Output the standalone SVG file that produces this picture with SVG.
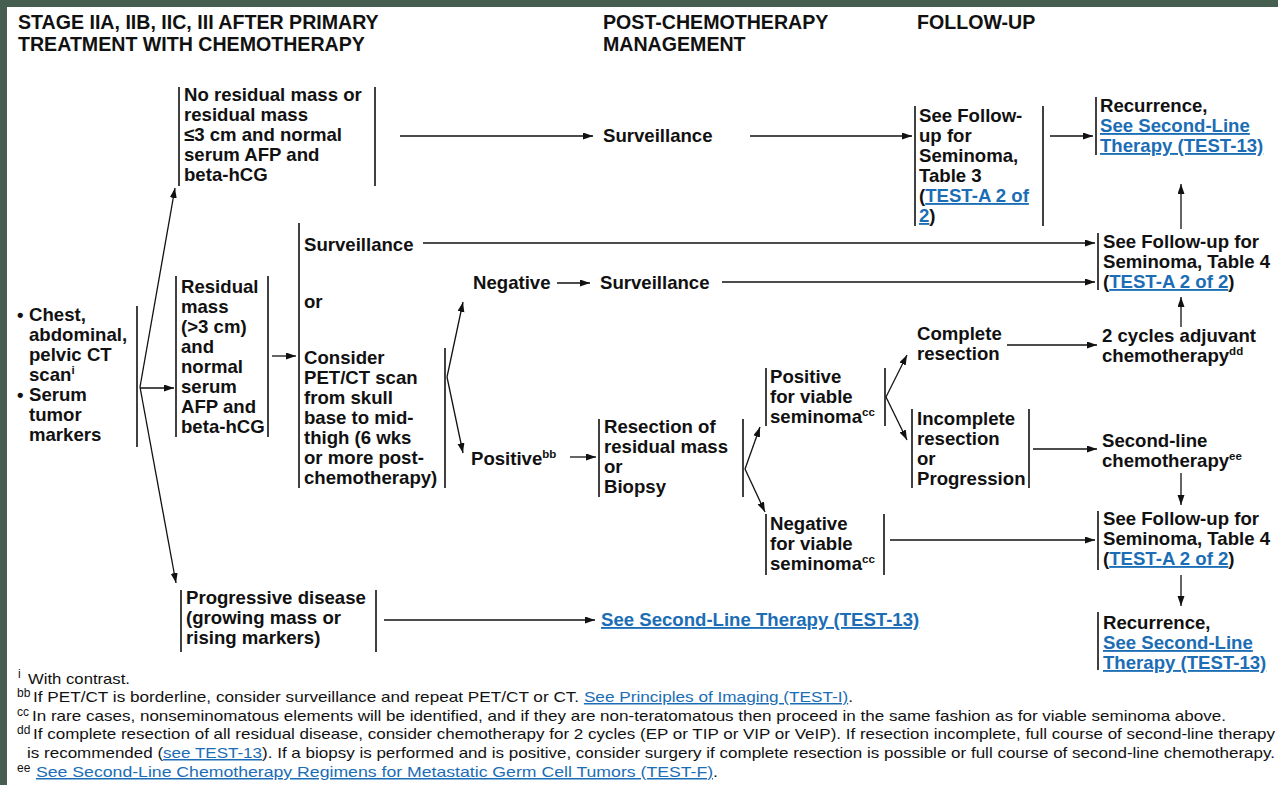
<svg xmlns="http://www.w3.org/2000/svg" width="1278" height="785" viewBox="0 0 1278 785">
<style>
.t{font-family:"Liberation Sans",Arial,sans-serif;font-weight:bold;font-size:18.6px;fill:#111}
.h{font-family:"Liberation Sans",Arial,sans-serif;font-weight:bold;font-size:19.6px;fill:#111}
.lk{fill:#1b6db5;text-decoration:underline}
.fn{font-family:"Liberation Sans",Arial,sans-serif;font-size:15px;fill:#111}
.sup{font-size:11.5px}
.fs{font-family:"Liberation Sans",Arial,sans-serif;font-size:12px;fill:#111}
.bar{stroke:#111;stroke-width:1.6}
.c{stroke:#111;stroke-width:1.3;fill:none}
.a{marker-end:url(#ah)}
</style>
<defs>
<marker id="ah" markerUnits="userSpaceOnUse" markerWidth="11" markerHeight="8" refX="10" refY="3.5" orient="auto">
<path d="M0,0 L10,3.5 L0,7 z" fill="#111"/>
</marker>
</defs>
<rect x="0" y="0" width="1278" height="785" fill="#fff"/>
<rect x="0" y="0" width="1278" height="7" fill="#465e50"/>
<rect x="0" y="0" width="7" height="785" fill="#465e50"/>

<g id="headers">
<text class="h" x="18" y="29">STAGE IIA, IIB, IIC, III AFTER PRIMARY</text>
<text class="h" x="18" y="51">TREATMENT WITH CHEMOTHERAPY</text>
<text class="h" x="603" y="29">POST-CHEMOTHERAPY</text>
<text class="h" x="603" y="51">MANAGEMENT</text>
<text class="h" x="917" y="29">FOLLOW-UP</text>
</g>

<g id="connectors">
<line class="c a" x1="140" y1="387" x2="175" y2="188"/>
<line class="c a" x1="140" y1="387" x2="176" y2="583"/>
<line class="c a" x1="140" y1="388" x2="174" y2="388"/>
<line class="c a" x1="400" y1="136" x2="593" y2="136"/>
<line class="c a" x1="750" y1="136" x2="912" y2="136"/>
<line class="c a" x1="1050" y1="136" x2="1093" y2="136"/>
<line class="c a" x1="1181" y1="229" x2="1181" y2="184"/>
<line class="c a" x1="272" y1="356" x2="296" y2="356"/>
<line class="c a" x1="423" y1="243" x2="1095" y2="243"/>
<line class="c a" x1="447" y1="377" x2="463" y2="302"/>
<line class="c a" x1="447" y1="377" x2="463" y2="453"/>
<line class="c a" x1="557" y1="283" x2="590" y2="283"/>
<line class="c a" x1="722" y1="282" x2="1095" y2="282"/>
<line class="c a" x1="570" y1="457" x2="596" y2="457"/>
<line class="c a" x1="745" y1="469" x2="760" y2="427"/>
<line class="c a" x1="745" y1="469" x2="765" y2="512"/>
<line class="c a" x1="886" y1="397" x2="907" y2="355"/>
<line class="c a" x1="886" y1="397" x2="907" y2="440"/>
<line class="c a" x1="1007" y1="345" x2="1097" y2="345"/>
<line class="c a" x1="1181" y1="327" x2="1181" y2="297"/>
<line class="c a" x1="1033" y1="449" x2="1097" y2="449"/>
<line class="c a" x1="1181" y1="473" x2="1181" y2="505"/>
<line class="c a" x1="890" y1="540" x2="1095" y2="540"/>
<line class="c a" x1="1181" y1="575" x2="1181" y2="606"/>
<line class="c a" x1="384" y1="620" x2="595" y2="620"/>
</g>

<g id="n-no-residual">
<line class="bar" x1="179" y1="87" x2="179" y2="186"/>
<line class="bar" x1="375" y1="87" x2="375" y2="186"/>
<text class="t" x="184" y="101">No residual mass or</text>
<text class="t" x="184" y="121">residual mass</text>
<text class="t" x="184" y="141">≤3 cm and normal</text>
<text class="t" x="184" y="161">serum AFP and</text>
<text class="t" x="184" y="181">beta-hCG</text>
</g>

<g id="n-surveillance-1">
<text class="t" x="603" y="142">Surveillance</text>
</g>

<g id="n-followup-t3">
<line class="bar" x1="915" y1="106" x2="915" y2="226"/>
<line class="bar" x1="1043" y1="106" x2="1043" y2="226"/>
<text class="t" x="919" y="122">See Follow-</text>
<text class="t" x="919" y="142">up for</text>
<text class="t" x="919" y="162">Seminoma,</text>
<text class="t" x="919" y="182">Table 3</text>
<text class="t" x="919" y="202">(<tspan class="lk">TEST-A 2 of </tspan></text>
<text class="t" x="919" y="222"><tspan class="lk">2</tspan>)</text>
</g>

<g id="n-recurrence-1">
<line class="bar" x1="1096" y1="97" x2="1096" y2="155"/>
<text class="t" x="1100" y="112">Recurrence,</text>
<text class="t lk" x="1100" y="132">See Second-Line </text>
<text class="t lk" x="1100" y="152">Therapy (TEST-13)</text>
</g>

<g id="n-ct">
<line class="bar" x1="137" y1="306" x2="137" y2="447"/>
<text class="t" x="17" y="321">•</text>
<text class="t" x="29" y="321">Chest,</text>
<text class="t" x="29" y="341">abdominal,</text>
<text class="t" x="29" y="361">pelvic CT</text>
<text class="t" x="29" y="381">scan<tspan class="sup" dy="-7">i</tspan></text>
<text class="t" x="17" y="401">•</text>
<text class="t" x="29" y="401">Serum</text>
<text class="t" x="29" y="421">tumor</text>
<text class="t" x="29" y="441">markers</text>
</g>

<g id="n-residual">
<line class="bar" x1="176" y1="276" x2="176" y2="437"/>
<line class="bar" x1="268" y1="276" x2="268" y2="437"/>
<text class="t" x="181" y="293">Residual</text>
<text class="t" x="181" y="313">mass</text>
<text class="t" x="181" y="333">(&gt;3 cm)</text>
<text class="t" x="181" y="353">and</text>
<text class="t" x="181" y="373">normal</text>
<text class="t" x="181" y="393">serum</text>
<text class="t" x="181" y="413">AFP and</text>
<text class="t" x="181" y="433">beta-hCG</text>
</g>

<g id="n-pet">
<line class="bar" x1="299" y1="223" x2="299" y2="488"/>
<line class="bar" x1="445" y1="348" x2="445" y2="488"/>
<text class="t" x="304" y="251">Surveillance</text>
<text class="t" x="304" y="308">or</text>
<text class="t" x="304" y="364">Consider</text>
<text class="t" x="304" y="384">PET/CT scan</text>
<text class="t" x="304" y="404">from skull</text>
<text class="t" x="304" y="424">base to mid-</text>
<text class="t" x="304" y="444">thigh (6 wks</text>
<text class="t" x="304" y="464">or more post-</text>
<text class="t" x="304" y="484">chemotherapy)</text>
</g>

<g id="n-negative">
<text class="t" x="473" y="289">Negative</text>
</g>
<g id="n-surveillance-2">
<text class="t" x="600" y="289">Surveillance</text>
</g>
<g id="n-positive">
<text class="t" x="471" y="465">Positive<tspan class="sup" dy="-7">bb</tspan></text>
</g>

<g id="n-resection">
<line class="bar" x1="599" y1="419" x2="599" y2="497"/>
<line class="bar" x1="743" y1="419" x2="743" y2="497"/>
<text class="t" x="604" y="433">Resection of</text>
<text class="t" x="604" y="453">residual mass</text>
<text class="t" x="604" y="473">or</text>
<text class="t" x="604" y="493">Biopsy</text>
</g>

<g id="n-pos-viable">
<line class="bar" x1="766" y1="368" x2="766" y2="426"/>
<line class="bar" x1="885" y1="368" x2="885" y2="426"/>
<text class="t" x="770" y="383">Positive</text>
<text class="t" x="770" y="403">for viable</text>
<text class="t" x="770" y="423">seminoma<tspan class="sup" dy="-7">cc</tspan></text>
</g>

<g id="n-neg-viable">
<line class="bar" x1="766" y1="514" x2="766" y2="575"/>
<line class="bar" x1="884" y1="514" x2="884" y2="575"/>
<text class="t" x="770" y="530">Negative</text>
<text class="t" x="770" y="550">for viable</text>
<text class="t" x="770" y="570">seminoma<tspan class="sup" dy="-7">cc</tspan></text>
</g>

<g id="n-complete">
<text class="t" x="917" y="340">Complete</text>
<text class="t" x="917" y="360">resection</text>
</g>

<g id="n-incomplete">
<line class="bar" x1="912" y1="409" x2="912" y2="488"/>
<line class="bar" x1="1029" y1="409" x2="1029" y2="488"/>
<text class="t" x="917" y="425">Incomplete</text>
<text class="t" x="917" y="445">resection</text>
<text class="t" x="917" y="465">or</text>
<text class="t" x="917" y="485">Progression</text>
</g>

<g id="n-followup-t4a">
<line class="bar" x1="1098" y1="233" x2="1098" y2="290"/>
<text class="t" x="1103" y="248">See Follow-up for</text>
<text class="t" x="1103" y="268">Seminoma, Table 4</text>
<text class="t" x="1103" y="288">(<tspan class="lk">TEST-A 2 of 2</tspan>)</text>
</g>

<g id="n-adjuvant">
<text class="t" x="1102" y="342">2 cycles adjuvant</text>
<text class="t" x="1102" y="362">chemotherapy<tspan class="sup" dy="-7">dd</tspan></text>
</g>

<g id="n-second-line">
<text class="t" x="1102" y="447">Second-line</text>
<text class="t" x="1102" y="467">chemotherapy<tspan class="sup" dy="-7">ee</tspan></text>
</g>

<g id="n-followup-t4b">
<line class="bar" x1="1098" y1="511" x2="1098" y2="570"/>
<text class="t" x="1103" y="525">See Follow-up for</text>
<text class="t" x="1103" y="545">Seminoma, Table 4</text>
<text class="t" x="1103" y="565">(<tspan class="lk">TEST-A 2 of 2</tspan>)</text>
</g>

<g id="n-recurrence-2">
<line class="bar" x1="1098" y1="612" x2="1098" y2="670"/>
<text class="t" x="1103" y="629">Recurrence,</text>
<text class="t lk" x="1103" y="649">See Second-Line </text>
<text class="t lk" x="1103" y="669">Therapy (TEST-13)</text>
</g>

<g id="n-progressive">
<line class="bar" x1="181" y1="590" x2="181" y2="652"/>
<line class="bar" x1="376" y1="590" x2="376" y2="652"/>
<text class="t" x="186" y="604">Progressive disease</text>
<text class="t" x="186" y="624">(growing mass or</text>
<text class="t" x="186" y="644">rising markers)</text>
</g>

<g id="n-second-line-link">
<text class="t lk" x="601" y="626">See Second-Line Therapy (TEST-13)</text>
</g>

<g id="footnotes">
<text class="fs" x="18" y="678">i</text>
<text class="fn" x="28" y="684" textLength="102" lengthAdjust="spacingAndGlyphs">With contrast.</text>
<text class="fs" x="17" y="697">bb</text>
<text class="fn" x="33" y="702" textLength="820" lengthAdjust="spacingAndGlyphs">If PET/CT is borderline, consider surveillance and repeat PET/CT or CT. <tspan class="lk">See Principles of Imaging (TEST-I)</tspan>.</text>
<text class="fs" x="17" y="716">cc</text>
<text class="fn" x="32" y="721" textLength="1194" lengthAdjust="spacingAndGlyphs">In rare cases, nonseminomatous elements will be identified, and if they are non-teratomatous then proceed in the same fashion as for viable seminoma above.</text>
<text class="fs" x="17" y="734">dd</text>
<text class="fn" x="33" y="739" textLength="1242" lengthAdjust="spacingAndGlyphs">If complete resection of all residual disease, consider chemotherapy for 2 cycles (EP or TIP or VIP or VeIP). If resection incomplete, full course of second-line therapy</text>
<text class="fn" x="27" y="758" textLength="1248" lengthAdjust="spacingAndGlyphs">is recommended (<tspan class="lk">see TEST-13</tspan>). If a biopsy is performed and is positive, consider surgery if complete resection is possible or full course of second-line chemotherapy.</text>
<text class="fs" x="17" y="772">ee</text>
<text class="fn" x="36" y="777" textLength="682" lengthAdjust="spacingAndGlyphs"><tspan class="lk">See Second-Line Chemotherapy Regimens for Metastatic Germ Cell Tumors (TEST-F)</tspan>.</text>
</g>
</svg>
